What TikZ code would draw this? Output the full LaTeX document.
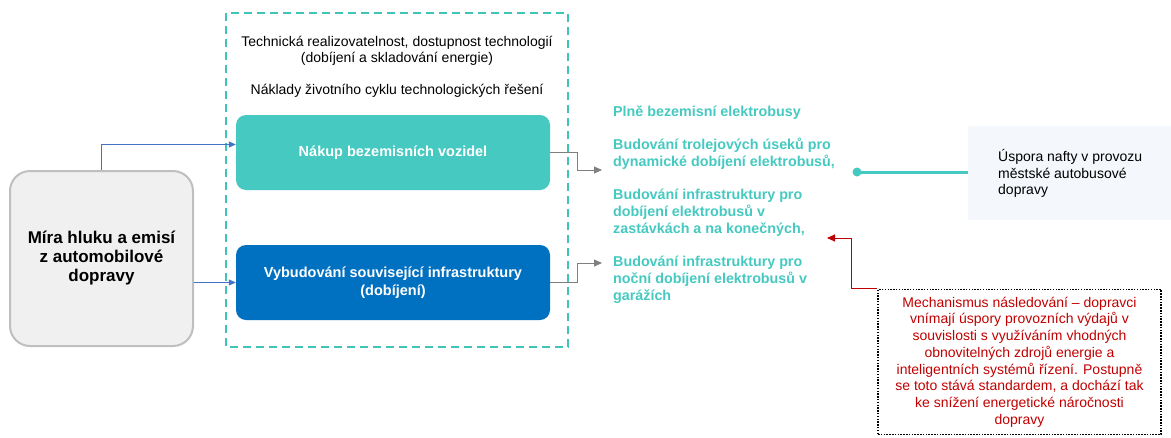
\documentclass[tikz,border=0pt]{standalone}
\usepackage{fontspec}
\setmainfont{Liberation Sans}
\usetikzlibrary{arrows.meta}
\definecolor{tealc}{HTML}{45C9C0}
\definecolor{tealdash}{HTML}{3EC4B9}
\definecolor{bluebox}{HTML}{0070C0}
\definecolor{bluearr}{HTML}{4472C4}
\definecolor{grayfill}{HTML}{F0F0F0}
\definecolor{grayline}{HTML}{BFBFBF}
\definecolor{grayarr}{HTML}{7F7F7F}
\definecolor{redc}{HTML}{C00000}
\definecolor{lightbox}{HTML}{F4F7FB}
\tikzset{
  fs/.style n args={2}{font=\fontsize{#1}{#2}\selectfont},
  fsb/.style n args={2}{font=\fontsize{#1}{#2}\selectfont\bfseries},
  actionbox/.style={rounded corners=10pt, minimum width=314pt, minimum height=75pt, text=white, align=center, fsb={14.5}{18}},
  listitem/.style={anchor=west, align=left, text=tealc, inner sep=0pt, fsb={14.3}{17}},
  bluearrow/.style={draw=bluearr, line width=0.8pt, -{Triangle[length=7pt,width=6pt]}},
  grayarrow/.style={draw=grayarr, line width=0.8pt, -{Triangle[length=8pt,width=7pt]}},
  redarrow/.style={draw=redc, line width=0.9pt, -{Triangle[length=8pt,width=7pt]}},
}
\begin{document}
\begin{tikzpicture}[x=1pt,y=-1pt]
\useasboundingbox (0,0) rectangle (1171,437);
% dashed frame
\draw[tealdash, line width=2pt, dash pattern=on 8pt off 5pt] (226,13) rectangle (568,347);
% source box
\node[draw=grayline, line width=2pt, fill=grayfill, rounded corners=20pt,
      minimum width=183pt, minimum height=175pt, align=center, fsb={17}{19}]
  (src) at (101.5,258.5) {Míra hluku a emisí\\z automobilové\\dopravy};
% header texts
\node[align=center, fs={14}{16}, inner sep=0pt] (hdr1) at (397,51)
  {Technická realizovatelnost, dostupnost technologií\\(dobíjení a skladování energie)};
\node[fs={14}{16}, inner sep=0pt] (hdr2) at (397,91)
  {Náklady životního cyklu technologických řešení};
% action boxes
\node[actionbox, fill=tealc] (nakup) at (393,152.5) {Nákup bezemisních vozidel};
\node[actionbox, fill=bluebox] (infra) at (393,282.5) {Vybudování související infrastruktury\\(dobíjení)};
% list items
\node[listitem] (l1) at (613,112.5) {Plně bezemisní elektrobusy};
\node[listitem] (l2) at (613,154) {Budování trolejových úseků pro\\dynamické dobíjení elektrobusů,};
\node[listitem] (l3) at (613,212.5) {Budování infrastruktury pro\\dobíjení elektrobusů v\\zastávkách a na konečných,};
\node[listitem] (l4) at (613,279.5) {Budování infrastruktury pro\\noční dobíjení elektrobusů v\\garážích};
% result box
\fill[lightbox] (968,126) rectangle (1171,220);
\node[anchor=west, align=left, fs={14}{16.5}, inner sep=0pt] (spora) at (998,173.5)
  {Úspora nafty v provozu\\městské autobusové\\dopravy};
\coordinate (sporaw) at (968,172);
\node[circle, fill=tealc, minimum size=9pt, inner sep=0pt] (dot) at (857,172) {};
\draw[tealc, line width=3pt] (dot.center) -- (sporaw);
% mechanism box
\node[draw=black, line width=1.8pt, dash pattern=on 1.5pt off 1.3pt,
      minimum width=283pt, minimum height=145pt, align=center, text=redc, fs={14}{16.7}]
  (mech) at (1019.5,362)
  {Mechanismus následování – dopravci\\vnímají úspory provozních výdajů v\\souvislosti s využíváním vhodných\\obnovitelných zdrojů energie a\\inteligentních systémů řízení. Postupně\\se toto stává standardem, a dochází tak\\ke snížení energetické náročnosti\\dopravy};
% connectors
\coordinate (t1) at (602,170);
\coordinate (t2) at (602,263);
\coordinate (t3) at (827,238);
\draw[bluearrow] (src.north) |- ([yshift=8pt]nakup.west);
\draw[bluearrow] (src.east |- infra.west) -- (infra.west);
\draw[grayarrow] (nakup.east) -- ++(27,0) |- (t1);
\draw[grayarrow] (infra.east) -- ++(27,0) |- (t2);
\draw[redarrow] (mech.north west) -- ++(-26,0) |- (t3);
\end{tikzpicture}
\end{document}
